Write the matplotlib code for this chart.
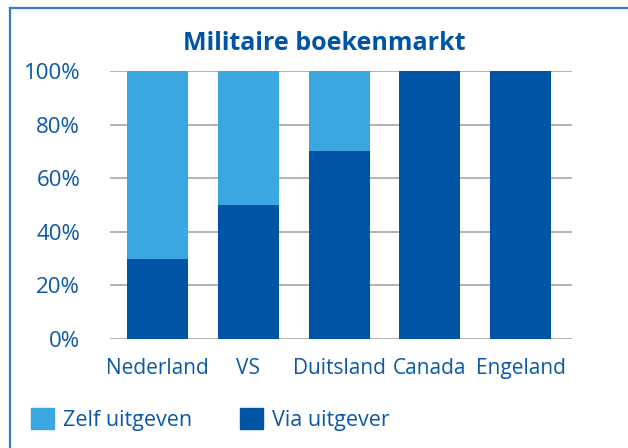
import matplotlib.pyplot as plt
from matplotlib.lines import Line2D
from matplotlib.patches import Patch
import numpy as np

plt.rcParams['font.family'] = ['Open Sans', 'DejaVu Sans']

landen = ["Nederland", "VS", "Duitsland", "Canada", "Engeland"]
via_uitgever = [30, 50, 70, 100, 100]
zelf_uitgeven = [70, 50, 30, 0, 0]

licht = "#3ba7e0"
donker = "#0054a6"
tekst = "#0a58a8"

fig = plt.figure(figsize=(6.28, 4.48), dpi=100)
ax = fig.add_axes([110/628, 1-339/448, 462/628, 268/448])

x = np.arange(len(landen))
ax.bar(x, via_uitgever, width=0.672, color=donker, zorder=3)
ax.bar(x, zelf_uitgeven, width=0.672, bottom=via_uitgever, color=licht, zorder=3)

ax.set_xlim(-0.523, 4.567)
ax.set_ylim(0, 100)
ax.set_yticks([0, 20, 40, 60, 80, 100])
ax.set_yticklabels([f"{v}%" for v in [0, 20, 40, 60, 80, 100]])
ax.set_xticks(x)
ax.set_xticklabels(landen)
ax.tick_params(axis='y', length=0, pad=21.5, labelsize=16, labelcolor=tekst)
ax.tick_params(axis='x', length=0, pad=14, labelsize=15, labelcolor=tekst)
ax.yaxis.grid(True, color="#a6a6a6", linewidth=1.2, zorder=0)
for s in ax.spines.values():
    s.set_visible(False)

fig.text(324/628, 1-43/448, "Militaire boekenmarkt", ha='center', va='center',
         fontsize=18, fontweight='bold', color=donker)

handles = [Patch(color=licht), Patch(color=donker)]
fig.legend(handles, ["Zelf uitgeven", "Via uitgever"], loc='center left',
           bbox_to_anchor=(31/628, 1-419.5/448), ncol=2, frameon=False,
           borderpad=0, borderaxespad=0,
           fontsize=15.5, labelcolor=tekst, handlelength=1.07, handleheight=1.07,
           handletextpad=0.42, columnspacing=2.2)

# kader
fig.add_artist(Line2D([9.5/628, 9.5/628], [0, 1-8.5/448], color="#3a7cc4", linewidth=1.6))
fig.add_artist(Line2D([9.5/628, 1], [1-8.5/448, 1-8.5/448], color="#3a7cc4", linewidth=1.6))

fig.savefig("out.png", dpi=100)
